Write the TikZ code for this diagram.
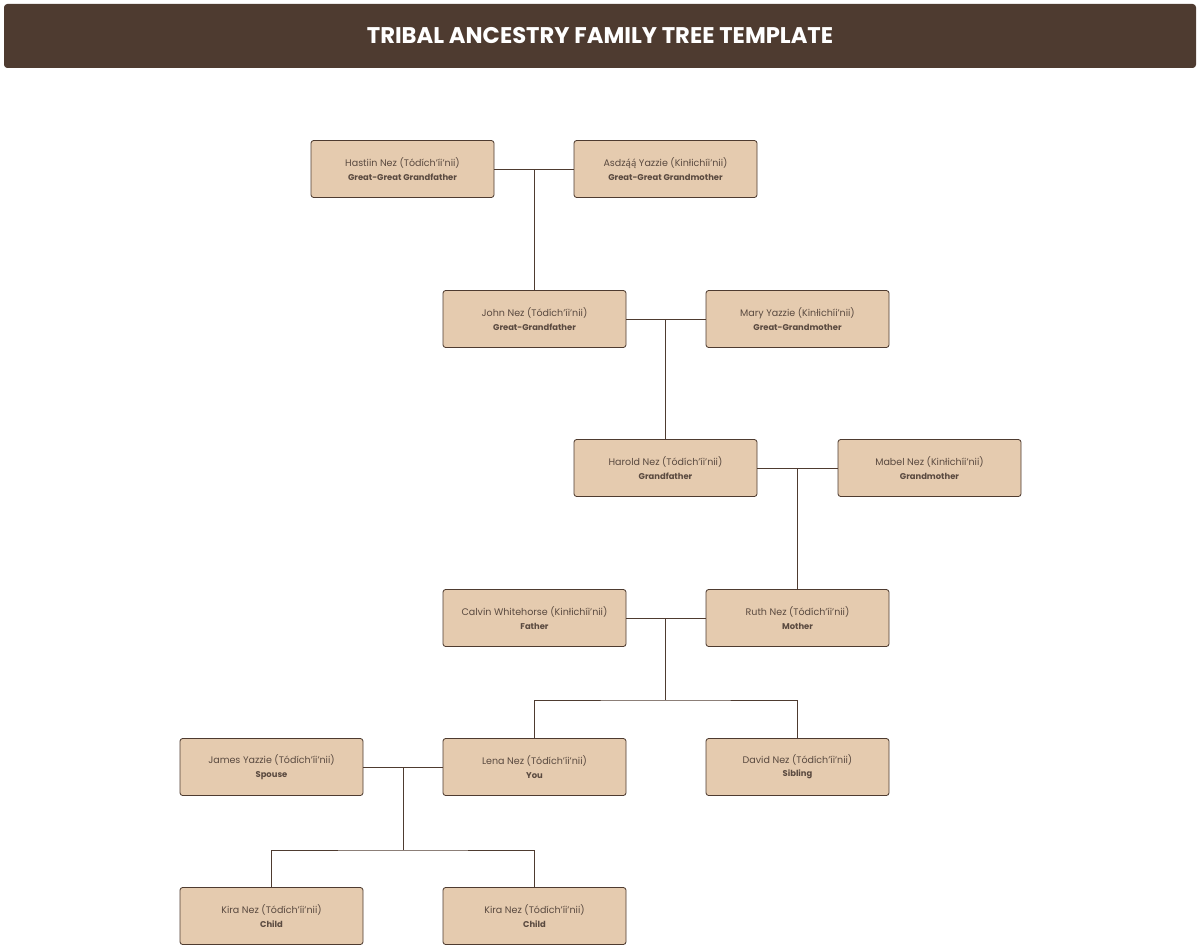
\documentclass[tikz,border=0pt]{standalone}
\usepackage{fontspec}
\setmainfont{Poppins}
\newfontfamily\markfont{Noto Sans}
\usepackage{tikz}

\definecolor{barbrown}{HTML}{4E3B30}
\definecolor{boxfill}{HTML}{E5CBAF}
\definecolor{treeline}{HTML}{4E3B30}
\definecolor{nametext}{HTML}{5A4A40}

\tikzset{
	person/.style={draw=treeline, fill=boxfill, line width=0.6pt, rounded corners=2pt,
		minimum width=137.25pt, minimum height=42.75pt, align=center,
		font=\fontsize{7.15}{11.2}\selectfont, text=nametext},
	titlebar/.style={fill=barbrown, rounded corners=2.5pt, minimum width=894pt,
		minimum height=48pt, text=white, font=\fontsize{17}{19}\selectfont\bfseries},
	link/.style={draw=treeline, line width=0.6pt}
}
\newcommand{\rolefont}{\fontsize{6.3}{11.2}\selectfont\bfseries}

\begin{document}
\begin{tikzpicture}[x=0.75pt, y=-0.75pt]
		\useasboundingbox (0,0) rectangle (1200,949);

		\node[titlebar] (title) at (600,36) {TRIBAL ANCESTRY FAMILY TREE TEMPLATE};

		%Personer
		\foreach \n/\x/\y/\who/\role in {
			hastiin/402.5/169/Hastiin Nez (Tódích’íi’nii)/Great-Great Grandfather,
			asdzaa/665.5/169/Asdz{\markfont ą́ą́} Yazzie (Kinłichíi’nii)/Great-Great Grandmother,
			john/534.5/319/John Nez (Tódích’íi’nii)/Great-Grandfather,
			mary/797.5/319/Mary Yazzie (Kinłichíi’nii)/Great-Grandmother,
			harold/665.5/468/Harold Nez (Tódích’íi’nii)/Grandfather,
			mabel/929.5/468/Mabel Nez (Kinłichíi’nii)/Grandmother,
			calvin/534.5/618/Calvin Whitehorse (Kinłichíi’nii)/Father,
			ruth/797.5/618/Ruth Nez (Tódích’íi’nii)/Mother,
			james/271.5/767/James Yazzie (Tódích’íi’nii)/Spouse,
			lena/534.5/767/Lena Nez (Tódích’íi’nii)/You,
			david/797.5/767/David Nez (Tódích’íi’nii)/Sibling,
			kiraa/271.5/916/Kira Nez (Tódích’íi’nii)/Child,
			kirab/534.5/916/Kira Nez (Tódích’íi’nii)/Child}{
			\node[person] (\n) at (\x,\y) {\who\\[-1.2pt]{\rolefont\role}};
		}

		%Par
		\draw[link] (hastiin.east) -- (asdzaa.west);
		\draw[link] (john.north |- hastiin.east) -- (john.north);
		\draw[link] (john.east) -- (mary.west);
		\draw[link] (harold.north |- john.east) -- (harold.north);
		\draw[link] (harold.east) -- (mabel.west);
		\draw[link] (ruth.north |- harold.east) -- (ruth.north);

		%Foreldre og barn
		\coordinate (sibbar) at (665.5,700);
		\draw[link] (calvin.east) -- (ruth.west);
		\draw[link] (sibbar |- calvin.east) -- (sibbar);
		\draw[link] (lena.north) |- (sibbar) -| (david.north);

		\coordinate (kidbar) at (403,850);
		\draw[link] (james.east) -- (lena.west);
		\draw[link] (kidbar |- james.east) -- (kidbar);
		\draw[link] (kiraa.north) |- (kidbar) -| (kirab.north);
	\end{tikzpicture}
\end{document}
